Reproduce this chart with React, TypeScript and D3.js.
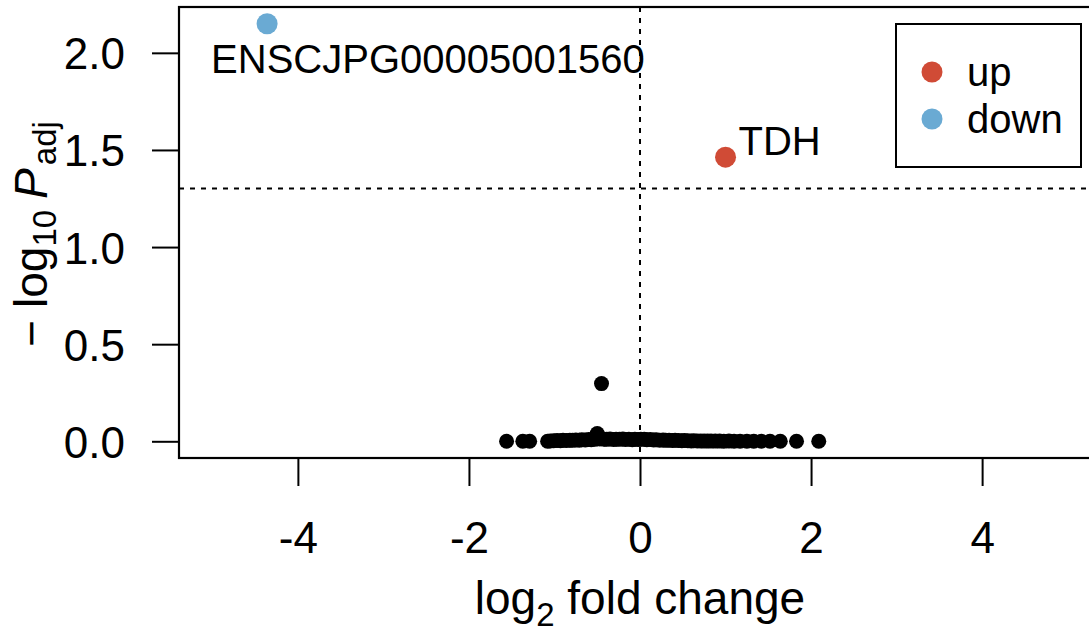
import * as d3 from "d3";
import { useEffect, useRef } from "react";

const width = 1089;
const height = 634;
const margin = { top: 7, left: 179, bottom: 176, right: -12 };
const fontFamily = "'Liberation Sans', Arial, Helvetica, sans-serif";

const xTicks = [-4, -2, 0, 2, 4];
const yTicks = [0, 0.5, 1, 1.5, 2];
const xDomain = [-5.39, 5.39];
const yDomain = [-0.086, 2.236];

// non-significant genes (log2 fold change, -log10 adjusted p)
const nsFoldChange = [
  -1.56, -1.37, -1.29, -1.08, -1.05, -1.01, -0.97, -0.93, -0.9, -0.86, -0.82,
  -0.79, -0.75, -0.71, -0.68, -0.64, -0.6, -0.57, -0.53, -0.5, -0.47, -0.45,
  -0.42, -0.39, -0.35, -0.31, -0.28, -0.24, -0.2, -0.17, -0.13, -0.09, -0.06,
  -0.02, 0.01, 0.05, 0.08, 0.12, 0.16, 0.19, 0.23, 0.27, 0.3, 0.34, 0.38, 0.41,
  0.45, 0.49, 0.52, 0.56, 0.6, 0.63, 0.67, 0.71, 0.75, 0.79, 0.83, 0.88, 0.93,
  0.98, 1.04, 1.1, 1.17, 1.25, 1.33, 1.42, 1.52, 1.64, 1.83, 2.09,
];
const nsNegLog10P = [
  0, 0, 0, 0, 0.002, 0.003, 0.004, 0.003, 0.005, 0.004, 0.006, 0.005, 0.007,
  0.006, 0.008, 0.007, 0.009, 0.008, 0.01, 0.04, 0.012, 0.297, 0.011, 0.01,
  0.012, 0.009, 0.011, 0.01, 0.012, 0.009, 0.011, 0.008, 0.01, 0.009, 0.011,
  0.01, 0.008, 0.009, 0.007, 0.008, 0.006, 0.007, 0.005, 0.006, 0.004, 0.005,
  0.004, 0.003, 0.004, 0.003, 0.002, 0.003, 0.002, 0.002, 0.001, 0.002, 0.001,
  0.001, 0.001, 0, 0.001, 0, 0, 0, 0, 0, 0, 0, 0, 0,
];

const sigGenes = ["TDH", "ENSCJPG00005001560"];
const sigFoldChange = [1.0, -4.36];
const sigNegLog10P = [1.463, 2.15];
const sigDirection = ["up", "down"];

const legendLabels = ["up", "down"];
const legendColors = ["#d04b36", "#6aaad3"];

const pCutoff = 0.05;
const fcCutoff = 0;

// where each gene label sits relative to its point
const labelNudge = {
  TDH: { dx: 13, dy: -2 },
  ENSCJPG00005001560: { dx: -56, dy: 49 },
};

export default function App() {
  const svgRef = useRef(null);

  useEffect(() => {
    if (!svgRef.current) return;
    drawVolcano(svgRef.current);
  }, []);

  return (
    <svg
      ref={svgRef}
      width={width}
      height={height}
      style={{ position: "absolute", left: 0, top: 0, background: "#fff" }}
    />
  );
}

function drawVolcano(svgElement) {
  const svg = d3.select(svgElement);
  svg.selectAll("*").remove();

  const plotRight = width - margin.right;
  const plotBottom = height - margin.bottom;

  const color = d3.scaleOrdinal().domain(legendLabels).range(legendColors);
  const xScale = d3.scaleLinear().domain(xDomain).range([margin.left, plotRight]);
  const yScale = d3.scaleLinear().domain(yDomain).range([plotBottom, margin.top]);

  const nsData = nsFoldChange.map((fc, i) => ({ x: fc, y: nsNegLog10P[i] }));
  const sigData = sigGenes.map((gene, i) => ({
    gene,
    x: sigFoldChange[i],
    y: sigNegLog10P[i],
    dir: sigDirection[i],
  }));

  const root = svg.append("g").style("font-family", fontFamily);

  // threshold lines
  root
    .append("line")
    .attr("x1", xScale(fcCutoff))
    .attr("x2", xScale(fcCutoff))
    .attr("y1", margin.top)
    .attr("y2", plotBottom)
    .attr("stroke", "#000")
    .attr("stroke-width", 2)
    .attr("stroke-dasharray", "5,6");

  root
    .append("line")
    .attr("x1", margin.left)
    .attr("x2", plotRight)
    .attr("y1", yScale(-Math.log10(pCutoff)))
    .attr("y2", yScale(-Math.log10(pCutoff)))
    .attr("stroke", "#000")
    .attr("stroke-width", 2)
    .attr("stroke-dasharray", "5,6");

  // points
  root
    .append("g")
    .selectAll("circle")
    .data(nsData)
    .join("circle")
    .attr("cx", (d) => xScale(d.x))
    .attr("cy", (d) => yScale(d.y))
    .attr("r", 7.5)
    .attr("fill", "#000");

  root
    .append("g")
    .selectAll("circle")
    .data(sigData)
    .join("circle")
    .attr("cx", (d) => xScale(d.x))
    .attr("cy", (d) => yScale(d.y))
    .attr("r", 10.5)
    .attr("fill", (d) => color(d.dir));

  root
    .append("g")
    .selectAll("text")
    .data(sigData)
    .join("text")
    .attr("x", (d) => xScale(d.x) + labelNudge[d.gene].dx)
    .attr("y", (d) => yScale(d.y) + labelNudge[d.gene].dy)
    .attr("fill", "#000")
    .style("font-size", "40px")
    .text((d) => d.gene);

  // box
  root
    .append("rect")
    .attr("x", margin.left)
    .attr("y", margin.top)
    .attr("width", plotRight - margin.left)
    .attr("height", plotBottom - margin.top)
    .attr("fill", "none")
    .attr("stroke", "#000")
    .attr("stroke-width", 2.2);

  // axes
  const xAxis = root
    .append("g")
    .attr("transform", `translate(0, ${plotBottom})`)
    .call(d3.axisBottom(xScale).tickValues(xTicks).tickSize(28).tickSizeOuter(0).tickPadding(0).tickFormat(d3.format("d")));
  xAxis.select(".domain").remove();
  xAxis.selectAll(".tick line").attr("stroke-width", 2);
  xAxis
    .selectAll(".tick text")
    .attr("y", 95)
    .attr("dy", null)
    .attr("fill", "#000")
    .style("font-family", fontFamily)
    .style("font-size", "44px")
    .text((d) => String(d).replace("\u2212", "-"));

  const yAxis = root
    .append("g")
    .attr("transform", `translate(${margin.left}, 0)`)
    .call(d3.axisLeft(yScale).tickValues(yTicks).tickSize(27).tickSizeOuter(0).tickFormat(d3.format(".1f")));
  yAxis.select(".domain").remove();
  yAxis.selectAll(".tick line").attr("stroke-width", 2);
  yAxis
    .selectAll(".tick text")
    .attr("x", -54)
    .attr("dy", "16px")
    .attr("fill", "#000")
    .style("font-family", fontFamily)
    .style("font-size", "44px");

  // axis titles
  const xTitle = root
    .append("text")
    .attr("x", xScale(0))
    .attr("y", 614)
    .attr("text-anchor", "middle")
    .attr("fill", "#000")
    .style("font-size", "46px");
  xTitle.append("tspan").text("log");
  xTitle.append("tspan").attr("dy", 12).style("font-size", "33px").text("2");
  xTitle.append("tspan").attr("dy", -12).text(" fold change");

  const yTitle = root
    .append("text")
    .attr("transform", `translate(47, 234) rotate(-90)`)
    .attr("text-anchor", "middle")
    .attr("fill", "#000")
    .style("font-size", "46px");
  yTitle.append("tspan").text("\u2212");
  yTitle.append("tspan").attr("dx", 12).text("log");
  yTitle.append("tspan").attr("dy", 9).style("font-size", "33px").text("10");
  yTitle.append("tspan").attr("dy", -9).attr("dx", 11).style("font-style", "italic").text("P");
  yTitle.append("tspan").attr("dy", 9).attr("dx", 3).style("font-size", "33px").text("adj");

  // legend
  const legend = root.append("g").attr("transform", "translate(896, 24)");
  legend
    .append("rect")
    .attr("width", 185)
    .attr("height", 143)
    .attr("fill", "#fff")
    .attr("stroke", "#000")
    .attr("stroke-width", 2);

  const legendItems = legend
    .selectAll("g")
    .data(legendLabels)
    .join("g")
    .attr("transform", (_, i) => `translate(0, ${48 + i * 47})`);

  legendItems
    .append("circle")
    .attr("cx", 36)
    .attr("cy", 0)
    .attr("r", 10.5)
    .attr("fill", (d) => color(d));

  legendItems
    .append("text")
    .attr("x", 71)
    .attr("y", 14)
    .attr("fill", "#000")
    .style("font-size", "40px")
    .text((d) => d);
}
